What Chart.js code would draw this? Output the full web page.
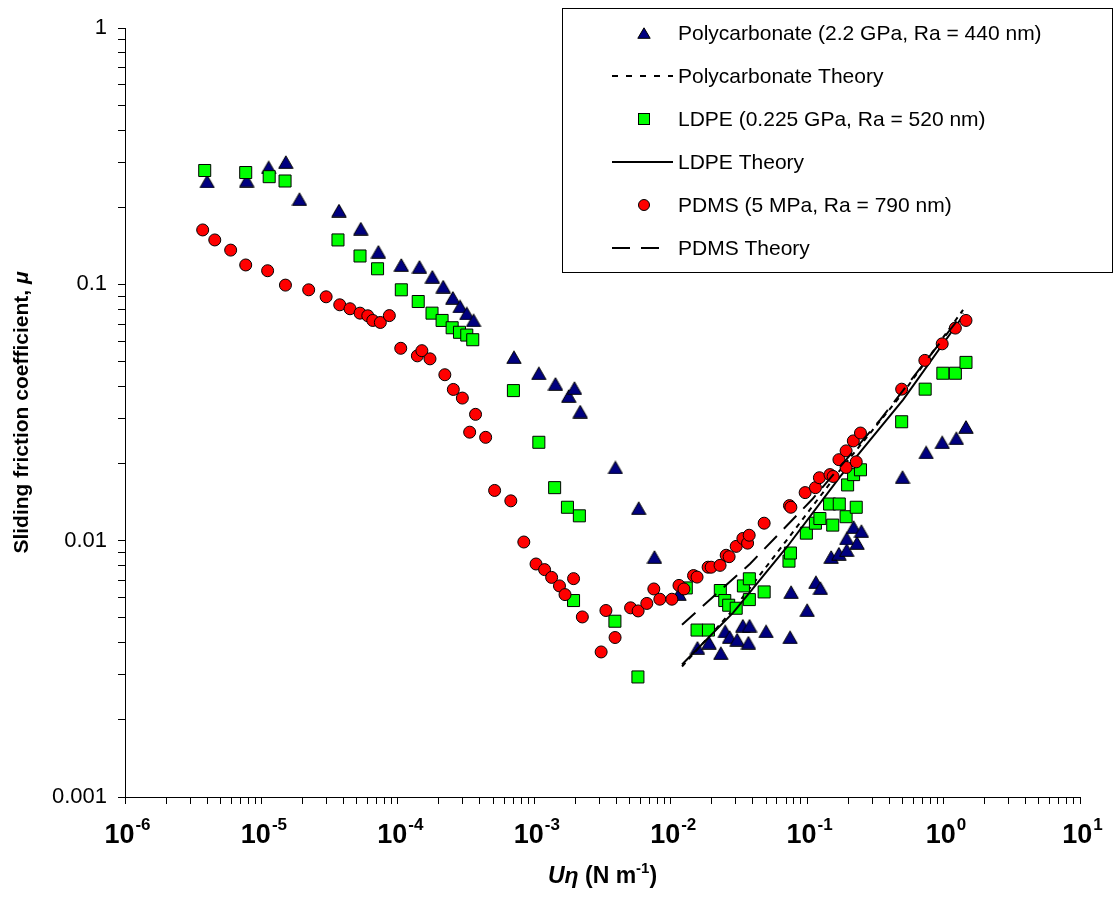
<!DOCTYPE html>
<html>
<head>
<meta charset="utf-8">
<title>Sliding friction coefficient</title>
<script src="https://cdn.jsdelivr.net/npm/chart.js@4.4.1/dist/chart.umd.min.js"></script>
<style>
html,body{margin:0;padding:0;background:#ffffff;}
#box{position:relative;width:1115px;height:904px;}
canvas{display:block;}
</style>
</head>
<body>
<div id="box"><canvas id="chart" width="1115" height="904"></canvas></div>
<script>
// ---------------- data ----------------
const pcX = [4.0e-6, 7.8e-6, 1.13e-5, 1.51e-5, 1.9e-5, 3.7e-5, 5.35e-5, 7.2e-5, 1.06e-4, 1.44e-4, 1.79e-4, 2.15e-4, 2.53e-4, 2.86e-4, 3.2e-4, 3.59e-4, 7.1e-4, 1.08e-3, 1.43e-3, 1.79e-3, 1.97e-3, 2.17e-3, 3.93e-3, 5.83e-3, 7.6e-3, 0.0115, 0.0157, 0.0191, 0.0233, 0.0251, 0.0270, 0.0307, 0.0338, 0.0371, 0.0378, 0.050, 0.075, 0.0763, 0.100, 0.116, 0.125, 0.150, 0.171, 0.195, 0.195, 0.219, 0.232, 0.250, 0.50, 0.745, 0.977, 1.24, 1.46];
const pcY = [0.252, 0.254, 0.286, 0.300, 0.215, 0.194, 0.165, 0.134, 0.119, 0.117, 0.107, 0.098, 0.0886, 0.082, 0.077, 0.0724, 0.052, 0.045, 0.0409, 0.0367, 0.0394, 0.0319, 0.0193, 0.0134, 0.00864, 0.0062, 0.00382, 0.0040, 0.00364, 0.00443, 0.00421, 0.00411, 0.00466, 0.0040, 0.00466, 0.00443, 0.0042, 0.0063, 0.00536, 0.00689, 0.00653, 0.00864, 0.0089, 0.0092, 0.0102, 0.0113, 0.0098, 0.0109, 0.0177, 0.0221, 0.0242, 0.0251, 0.0278];

const ldpeX = [3.84e-6, 7.67e-6, 1.14e-5, 1.49e-5, 3.64e-5, 5.28e-5, 7.1e-5, 1.06e-4, 1.41e-4, 1.78e-4, 2.11e-4, 2.5e-4, 2.83e-4, 3.2e-4, 3.54e-4, 7.03e-4, 1.08e-3, 1.41e-3, 1.75e-3, 1.94e-3, 2.14e-3, 3.9e-3, 5.75e-3, 0.013, 0.0156, 0.0189, 0.0231, 0.0249, 0.0266, 0.0302, 0.0341, 0.0377, 0.0377, 0.0484, 0.0736, 0.0754, 0.0987, 0.115, 0.124, 0.146, 0.154, 0.172, 0.193, 0.198, 0.219, 0.229, 0.246, 0.493, 0.733, 0.988, 1.22, 1.46];
const ldpeY = [0.278, 0.273, 0.263, 0.253, 0.149, 0.129, 0.115, 0.0952, 0.0857, 0.0772, 0.0723, 0.0677, 0.065, 0.0634, 0.0608, 0.0385, 0.0242, 0.0161, 0.0135, 0.00584, 0.0125, 0.00485, 0.00294, 0.00654, 0.00448, 0.00448, 0.00639, 0.00584, 0.0056, 0.00545, 0.00666, 0.0071, 0.00589, 0.00631, 0.00832, 0.00895, 0.0107, 0.0117, 0.0122, 0.0139, 0.0115, 0.0139, 0.0124, 0.0165, 0.0181, 0.0135, 0.0189, 0.0291, 0.039, 0.045, 0.045, 0.0496];

const pdmsX = [3.71e-6, 4.55e-6, 5.95e-6, 7.67e-6, 1.11e-5, 1.5e-5, 2.22e-5, 2.98e-5, 3.75e-5, 4.46e-5, 5.28e-5, 6.02e-5, 6.55e-5, 7.44e-5, 8.66e-5, 1.05e-4, 1.39e-4, 1.5e-4, 1.72e-4, 2.21e-4, 2.55e-4, 2.97e-4, 3.36e-4, 3.71e-4, 4.4e-4, 5.12e-4, 6.73e-4, 8.38e-4, 1.03e-3, 1.19e-3, 1.34e-3, 1.53e-3, 1.68e-3, 1.94e-3, 2.25e-3, 3.09e-3, 3.35e-3, 3.91e-3, 5.08e-3, 5.77e-3, 6.68e-3, 7.52e-3, 8.32e-3, 0.0102, 0.0115, 0.0125, 0.0147, 0.0156, 0.0188, 0.0198, 0.023, 0.0255, 0.0268, 0.0302, 0.0338, 0.0366, 0.0376, 0.0484, 0.0742, 0.076, 0.0967, 0.115, 0.123, 0.147, 0.155, 0.171, 0.193, 0.193, 0.218, 0.229, 0.246, 0.493, 0.729, 0.977, 1.22, 1.46];
const pdmsY = [0.163, 0.149, 0.136, 0.119, 0.113, 0.0993, 0.0952, 0.0894, 0.0832, 0.0803, 0.0772, 0.0754, 0.0723, 0.071, 0.0755, 0.0563, 0.0526, 0.0551, 0.0512, 0.0444, 0.0389, 0.036, 0.0265, 0.0311, 0.0253, 0.0157, 0.0143, 0.00988, 0.00811, 0.00771, 0.00719, 0.00666, 0.00616, 0.00711, 0.00504, 0.00368, 0.00534, 0.00419, 0.00547, 0.00532, 0.00569, 0.00648, 0.00591, 0.00591, 0.00669, 0.00648, 0.00731, 0.00721, 0.00788, 0.00788, 0.00801, 0.00877, 0.00866, 0.0095, 0.0102, 0.00978, 0.0105, 0.0117, 0.0137, 0.0135, 0.0154, 0.0161, 0.0176, 0.0181, 0.0178, 0.0207, 0.0224, 0.0193, 0.0245, 0.0203, 0.0263, 0.039, 0.0505, 0.0586, 0.0675, 0.0723];

const pcTheoryX = [0.0121, 0.0287, 0.0714, 0.175, 0.506, 1.39];
const pcTheoryY = [0.00323, 0.00538, 0.0101, 0.0189, 0.0378, 0.0795];
const ldpeTheoryX = [0.0121, 0.0287, 0.0714, 0.175, 0.506, 1.39];
const ldpeTheoryY = [0.00329, 0.00524, 0.00947, 0.0178, 0.0355, 0.0754];
const pdmsTheoryX = [0.0121, 0.0382, 0.109, 0.343, 1.39];
const pdmsTheoryY = [0.0047, 0.00813, 0.0145, 0.0296, 0.0772];

const seriesLabels = [
  'Polycarbonate (2.2 GPa, Ra = 440 nm)',
  'Polycarbonate Theory',
  'LDPE (0.225 GPa, Ra = 520 nm)',
  'LDPE Theory',
  'PDMS (5 MPa, Ra = 790 nm)',
  'PDMS Theory'
];

const xTickExponents = [-6, -5, -4, -3, -2, -1, 0, 1];
const yTickExponents = [-3, -2, -1, 0];
const yTickLabels = ['0.001', '0.01', '0.1', '1'];
const yAxisTitleText = 'Sliding friction coefficient, ';
const yAxisTitleSymbol = 'μ';
const xAxisTitleItalic = 'Uη';
const xAxisTitleText = ' (N m';
const xAxisTitleSup = '-1';
const xAxisTitleEnd = ')';

// ---------------- helpers ----------------
const FONT = '"Liberation Sans", Arial, Helvetica, sans-serif';
function pts(xs, ys) { return xs.map((x, i) => ({ x: x, y: ys[i] })); }
function logTicks(exps) {
  const out = [];
  for (let i = 0; i < exps.length; i++) {
    const b = Math.pow(10, exps[i]);
    if (i === exps.length - 1) { out.push({ value: b, major: true }); break; }
    for (let k = 1; k <= 9; k++) out.push({ value: k * b, major: k === 1 });
  }
  return out;
}
function yLabelFor(v) {
  for (let i = 0; i < yTickExponents.length; i++) {
    if (Math.abs(Math.log10(v) - yTickExponents[i]) < 1e-6) return yTickLabels[i];
  }
  return '';
}
function makeTriangle(w, h) {
  const c = document.createElement('canvas');
  c.width = w; c.height = h;
  const g = c.getContext('2d');
  g.beginPath();
  g.moveTo(w / 2, 0.8); g.lineTo(w - 0.8, h - 0.7); g.lineTo(0.8, h - 0.7); g.closePath();
  g.fillStyle = '#000080'; g.fill();
  g.strokeStyle = '#000000'; g.lineWidth = 1; g.stroke();
  return c;
}
const triImg = makeTriangle(16, 14);
const triLegendImg = makeTriangle(14, 12);

const COL_PC = '#000080', COL_LDPE = '#00FF00', COL_PDMS = '#FF0000';

// ---------------- text / legend plugin ----------------
const textPlugin = {
  id: 'textPlugin',
  afterDraw(chart) {
    const ctx = chart.ctx;
    const xs = chart.scales.x;
    const area = chart.chartArea;
    ctx.save();
    ctx.fillStyle = '#000';
    ctx.textBaseline = 'alphabetic';
    ctx.textAlign = 'left';

    // x tick labels: 10 with superscript exponent
    for (const e of xTickExponents) {
      const px = xs.getPixelForValue(Math.pow(10, e));
      const base = '10', sup = String(e);
      ctx.font = 'bold 27px ' + FONT; const wb = ctx.measureText(base).width;
      ctx.font = 'bold 17px ' + FONT; const ws = ctx.measureText(sup).width;
      const x0 = px - (wb + ws) / 2 + 2;
      ctx.font = 'bold 27px ' + FONT; ctx.fillText(base, x0, 843);
      ctx.font = 'bold 17px ' + FONT; ctx.fillText(sup, x0 + wb + 1, 830);
    }

    // x axis title
    const parts = [
      { t: xAxisTitleItalic, f: 'italic bold 23px ' + FONT, dy: 0 },
      { t: xAxisTitleText, f: 'bold 23px ' + FONT, dy: 0 },
      { t: xAxisTitleSup, f: 'bold 15px ' + FONT, dy: -10 },
      { t: xAxisTitleEnd, f: 'bold 23px ' + FONT, dy: 0 }
    ];
    let tw = 0;
    parts.forEach(p => { ctx.font = p.f; p.w = ctx.measureText(p.t).width; tw += p.w; });
    let cx = (area.left + area.right) / 2 - tw / 2;
    parts.forEach(p => { ctx.font = p.f; ctx.fillText(p.t, cx, 883 + p.dy); cx += p.w; });

    // y axis title (rotated)
    ctx.save();
    ctx.translate(28, (area.top + area.bottom) / 2);
    ctx.rotate(-Math.PI / 2);
    ctx.font = 'bold 21px ' + FONT; const w1 = ctx.measureText(yAxisTitleText).width;
    ctx.font = 'italic bold 21px ' + FONT; const w2 = ctx.measureText(yAxisTitleSymbol).width;
    ctx.font = 'bold 21px ' + FONT; ctx.fillText(yAxisTitleText, -(w1 + w2) / 2, 0);
    ctx.font = 'italic bold 21px ' + FONT; ctx.fillText(yAxisTitleSymbol, -(w1 + w2) / 2 + w1, 0);
    ctx.restore();

    // legend box
    const lx = 562.5, ly = 8.5, lw = 550, lh = 264;
    ctx.fillStyle = '#ffffff'; ctx.fillRect(lx, ly, lw, lh);
    ctx.strokeStyle = '#000000'; ctx.lineWidth = 1; ctx.strokeRect(lx, ly, lw, lh);
    const ds = chart.data.datasets;
    for (let i = 0; i < ds.length; i++) {
      const y = 33 + 43 * i;
      const d = ds[i];
      if (d.showLine) {
        ctx.save();
        ctx.strokeStyle = '#000'; ctx.lineWidth = d.borderWidth;
        ctx.setLineDash(d.legendDash || []);
        ctx.beginPath(); ctx.moveTo(612, y); ctx.lineTo(d.legendEnd || 673, y); ctx.stroke();
        ctx.restore();
      } else if (d.pointStyle === triImg) {
        ctx.drawImage(triLegendImg, 644 - 7, y - 6);
      } else if (d.pointStyle === 'rect') {
        ctx.fillStyle = d.backgroundColor; ctx.fillRect(638.5, y - 5.5, 11, 11);
        ctx.strokeStyle = '#000'; ctx.lineWidth = 1; ctx.strokeRect(638.5, y - 5.5, 11, 11);
      } else {
        ctx.beginPath(); ctx.arc(644, y, 5.5, 0, Math.PI * 2);
        ctx.fillStyle = d.backgroundColor; ctx.fill();
        ctx.strokeStyle = '#000'; ctx.lineWidth = 1; ctx.stroke();
      }
      ctx.fillStyle = '#000';
      ctx.font = '21px ' + FONT;
      ctx.textBaseline = 'middle';
      ctx.fillText(d.label, 678, y + 1);
      ctx.textBaseline = 'alphabetic';
    }
    ctx.restore();
  }
};

// ---------------- chart ----------------
const axisCommon = {
  type: 'logarithmic',
  grid: { display: true, drawOnChartArea: false, drawTicks: true, tickLength: 7, color: '#000', lineWidth: 1 },
  border: { display: true, color: '#000', width: 1 },
  title: { display: false }
};

new Chart(document.getElementById('chart'), {
  type: 'scatter',
  data: {
    datasets: [
      { label: seriesLabels[0], data: pts(pcX, pcY), pointStyle: triImg, pointRadius: 8, pointHoverRadius: 8,
        backgroundColor: COL_PC, borderColor: '#000', borderWidth: 1, showLine: false, order: 6 },
      { label: seriesLabels[1], data: pts(pcTheoryX, pcTheoryY), showLine: true, pointRadius: 0, fill: false,
        borderColor: '#000', borderWidth: 2, borderDash: [5, 5], legendDash: [6, 8], legendEnd: 673, order: 5 },
      { label: seriesLabels[2], data: pts(ldpeX, ldpeY), pointStyle: 'rect', pointRadius: 8.5, pointHoverRadius: 8.5,
        backgroundColor: COL_LDPE, borderColor: '#000', borderWidth: 1, showLine: false, order: 4 },
      { label: seriesLabels[3], data: pts(ldpeTheoryX, ldpeTheoryY), showLine: true, pointRadius: 0, fill: false,
        borderColor: '#000', borderWidth: 2, borderDash: [], legendDash: [], legendEnd: 673, order: 3 },
      { label: seriesLabels[4], data: pts(pdmsX, pdmsY), pointStyle: 'circle', pointRadius: 6, pointHoverRadius: 6,
        backgroundColor: COL_PDMS, borderColor: '#000', borderWidth: 1, showLine: false, order: 2 },
      { label: seriesLabels[5], data: pts(pdmsTheoryX, pdmsTheoryY), showLine: true, pointRadius: 0, fill: false,
        borderColor: '#000', borderWidth: 2, borderDash: [18, 10], legendDash: [18, 11], legendEnd: 660, order: 1 }
    ]
  },
  options: {
    responsive: false,
    animation: false,
    devicePixelRatio: 1,
    events: [],
    layout: { padding: { top: 28, right: 35, left: 0, bottom: 0 } },
    plugins: { legend: { display: false }, tooltip: { enabled: false }, title: { display: false } },
    scales: {
      x: Object.assign({}, axisCommon, {
        position: 'bottom', min: 1e-6, max: 10,
        afterBuildTicks: s => { s.ticks = logTicks(xTickExponents); },
        afterFit: s => { s.height = 107; },
        ticks: { autoSkip: false, maxRotation: 0, minRotation: 0, padding: 0, callback: () => '' }
      }),
      y: Object.assign({}, axisCommon, {
        position: 'left', min: 0.001, max: 1,
        afterBuildTicks: s => { s.ticks = logTicks(yTickExponents); },
        afterFit: s => { s.width = 125; },
        ticks: { autoSkip: false, padding: 11, color: '#000', font: { family: FONT, size: 22 },
          callback: (v) => yLabelFor(v) }
      })
    }
  },
  plugins: [textPlugin]
});
</script>
</body>
</html>
